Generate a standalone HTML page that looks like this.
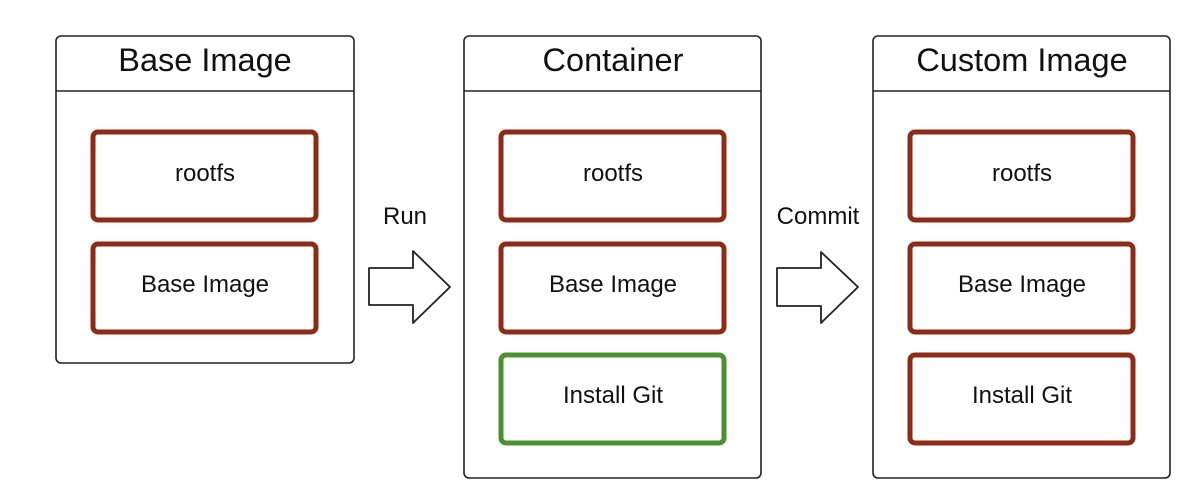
<!DOCTYPE html>
<html><head><style>
body{margin:0;background:#fff;width:1181px;height:495px;overflow:hidden;font-family:"Liberation Sans",sans-serif;}
svg{display:block}
text{font-family:"Liberation Sans",sans-serif;fill:#111}
</style></head><body>
<svg width="1181" height="495" viewBox="0 0 1181 495">
<g fill="#fff" stroke="#222" stroke-width="1.6">
<rect x="56" y="36" width="298" height="327" rx="5"/>
<line x1="56" y1="91" x2="354" y2="91"/>
<rect x="464" y="36" width="297" height="442" rx="5"/>
<line x1="464" y1="91" x2="761" y2="91"/>
<rect x="873" y="36" width="297" height="442" rx="5"/>
<line x1="873" y1="91" x2="1170" y2="91"/>
</g>
<g font-size="32.5" text-anchor="middle">
<text x="205" y="71">Base Image</text>
<text x="613" y="71">Container</text>
<text x="1022" y="71">Custom Image</text>
</g>
<g fill="#fff" stroke="#8e2a15" stroke-width="5">
<rect x="93" y="132" width="223" height="88" rx="5"/>
<rect x="93" y="244" width="223" height="88" rx="5"/>
<rect x="501" y="132" width="223" height="88" rx="5"/>
<rect x="501" y="244" width="223" height="88" rx="5"/>
<rect x="910" y="132" width="223" height="88" rx="5"/>
<rect x="910" y="244" width="223" height="88" rx="5"/>
<rect x="910" y="355" width="223" height="88" rx="5"/>
</g>
<rect x="501" y="355" width="223" height="88" rx="5" fill="#fff" stroke="#4a9230" stroke-width="5"/>
<g font-size="24" text-anchor="middle">
<text x="205" y="181">rootfs</text>
<text x="205" y="292">Base Image</text>
<text x="613" y="181">rootfs</text>
<text x="613" y="292">Base Image</text>
<text x="613" y="403">Install Git</text>
<text x="1022" y="181">rootfs</text>
<text x="1022" y="292">Base Image</text>
<text x="1022" y="403">Install Git</text>
<text x="405" y="224">Run</text>
<text x="818" y="224">Commit</text>
</g>
<g fill="#fff" stroke="#222" stroke-width="1.8" stroke-linejoin="round">
<path d="M369 268 H413 V251 L450 287 L413 323 V305 H369 Z"/>
<path d="M777 268 H821 V252 L858 287 L821 323 V306 H777 Z"/>
</g>
</svg>
</body></html>
